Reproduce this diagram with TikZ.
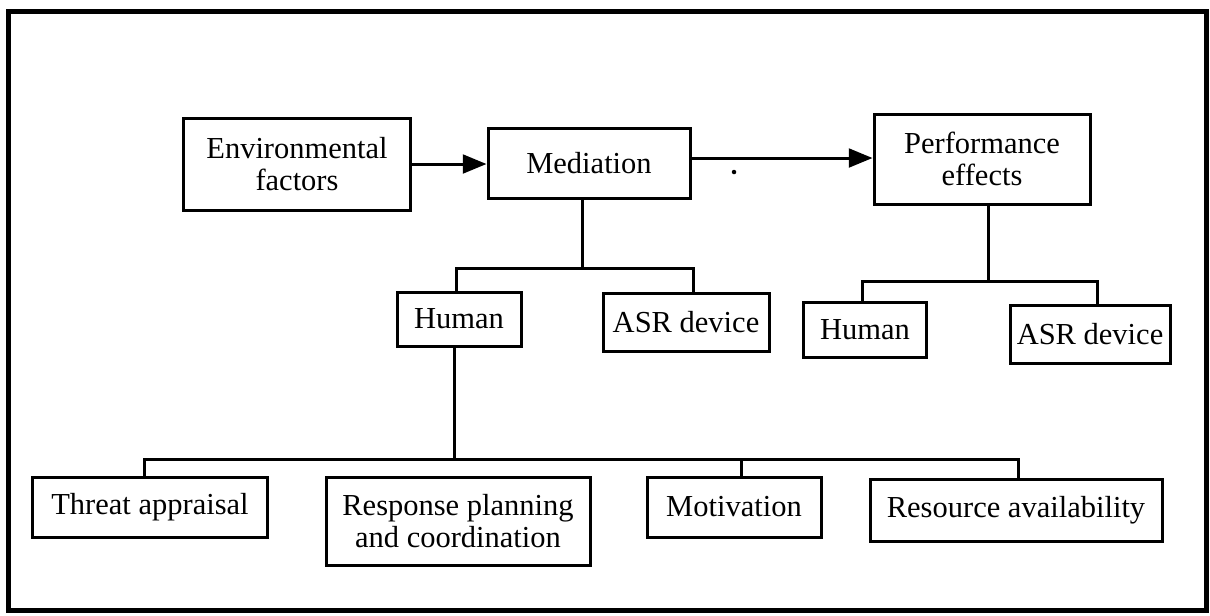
\documentclass[tikz,border=0pt]{standalone}
\usepackage{fontspec}
\setmainfont{Liberation Serif}
\usetikzlibrary{arrows.meta, positioning}

\begin{document}
\begin{tikzpicture}[x=0.4pt, y=-0.4pt, >={Triangle[length=9.5pt,width=7.5pt]},
  box/.style={draw, line width=1.2pt, align=center, inner sep=0pt,
    font=\fontsize{12.2}{12.6}\selectfont},
  link/.style={line width=1.2pt}]
  \useasboundingbox (0,0) rectangle (1210,615);
  \draw[line width=2pt] (8,11) rectangle (1206,610);

  % top row
  \node[box, minimum width=90.8pt, minimum height=36.8pt] (env) at (297,164) {Environmental\\factors};
  \node[box, minimum width=80.8pt, minimum height=28pt] (med) at (589,163) {Mediation};
  \node[box, minimum width=86.4pt, minimum height=36pt] (perf) at (982,159) {Performance\\effects};
  \draw[->, link] (env.east) -- (env.east -| med.west);
  \draw[->, link] (med.east |- 0,158) -- (perf.west |- 0,158);
  \fill (734,172) circle[radius=0.9pt];

  % second row
  \node[box, minimum width=49.6pt, minimum height=21.6pt] (hum1) at (459,319) {Human};
  \node[box, minimum width=66.4pt, minimum height=23.2pt] (asr1) at (686,322) {ASR device};
  \node[box, minimum width=49.2pt, minimum height=22pt] (hum2) at (865,330) {Human};
  \node[box, minimum width=64pt, minimum height=23.2pt] (asr2) at (1090,334) {ASR device};
  \coordinate (medbar) at (582,268);
  \coordinate (perfbar) at (988,281);
  \draw[link] (med.south -| medbar) -- (medbar);
  \draw[link] (hum1.north -| 456,0) |- (medbar) -| (asr1.north -| 693,0);
  \draw[link] (perf.south -| perfbar) -- (perfbar);
  \draw[link] (hum2.north -| 862,0) |- (perfbar) -| (asr2.north -| 1097,0);

  % bottom row
  \node[box, minimum width=94pt, minimum height=24pt] (threat) at (150,507) {Threat appraisal};
  \node[box, minimum width=105.6pt, minimum height=35.2pt] (resp) at (458,521) {Response planning\\and coordination};
  \node[box, minimum width=69.6pt, minimum height=24pt] (motiv) at (734,507) {Motivation};
  \node[box, minimum width=116.8pt, minimum height=24.8pt] (res) at (1016,510) {Resource availability};
  \coordinate (humbar) at (454,459);
  \draw[link] (hum1.south -| humbar) -- (humbar);
  \draw[link] (threat.north -| 144,0) |- (humbar) -| (res.north -| 1018,0);
  \draw[link] (motiv.north -| 741,0) -- (humbar -| 741,0);
\end{tikzpicture}
\end{document}
